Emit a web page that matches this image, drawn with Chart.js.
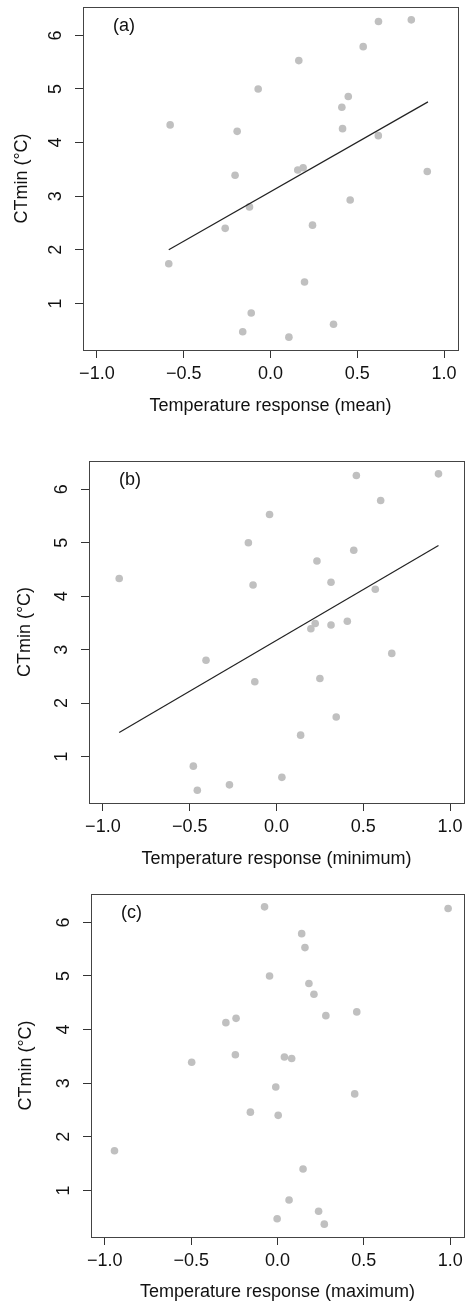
<!DOCTYPE html>
<html>
<head>
<meta charset="utf-8">
<script src="https://cdn.jsdelivr.net/npm/chart.js@4"></script>
<style>
  html, body { margin: 0; padding: 0; background: #fff; }
  body { width: 468px; height: 1306px; position: relative; overflow: hidden; }
  canvas { position: absolute; left: 0; }
</style>
</head>
<body>
<canvas id="pa"></canvas>
<canvas id="pb"></canvas>
<canvas id="pc"></canvas>
<script>
// CTmin per species, same order in every panel
const ctmin = [4.33, 4.21, 5.00, 5.53, 3.39, 3.49, 3.53, 4.66, 4.86, 4.26, 5.79, 6.26, 6.29,
  4.13, 3.46, 2.93, 2.80, 2.40, 2.46, 1.74, 1.40, 0.82, 0.47, 0.37, 0.61]
// temperature response: mean / minimum / maximum
const respMean = [-0.578, -0.192, -0.071, 0.163, -0.204, 0.157, 0.188, 0.411, 0.448, 0.415, 0.534, 0.622, 0.811,
  0.621, 0.903, 0.459, -0.121, -0.261, 0.242, -0.586, 0.196, -0.111, -0.160, 0.106, 0.363]
const respMin = [-0.906, -0.135, -0.162, -0.040, 0.198, 0.223, 0.408, 0.233, 0.445, 0.314, 0.600, 0.460, 0.933,
  0.569, 0.314, 0.664, -0.406, -0.125, 0.250, 0.344, 0.139, -0.479, -0.271, -0.456, 0.031]
const respMax = [0.459, -0.240, -0.046, 0.159, -0.497, 0.040, -0.244, 0.211, 0.182, 0.280, 0.140, 0.988, -0.075,
  -0.299, 0.082, -0.010, 0.447, 0.004, -0.157, -0.944, 0.148, 0.067, -0.002, 0.271, 0.238]
// fitted line end points
const fitMean = [{ x: -0.586, y: 2.00 }, { x: 0.907, y: 4.76 }]
const fitMin = [{ x: -0.906, y: 1.45 }, { x: 0.933, y: 4.95 }]

const xTicks = [-1, -0.5, 0, 0.5, 1]
const yTicks = [1, 2, 3, 4, 5, 6]
const xRange = [-1.08, 1.08]
const yRange = [0.13, 6.53]

const W = 468
const FONT = { family: "'Liberation Sans', Arial, Helvetica, sans-serif", size: 18 }
const INK = '#111'

const fmtX = v => (v < 0 ? '\u2212' : '') + Math.abs(v).toFixed(1)

const frame = {
  id: 'frame',
  afterDraw (chart, args, opts) {
    const { ctx, chartArea: a } = chart
    ctx.save()
    ctx.strokeStyle = '#444'
    ctx.lineWidth = 1
    ctx.strokeRect(Math.round(a.left) + 0.5, Math.round(a.top) + 0.5,
      Math.round(a.right - a.left), Math.round(a.bottom - a.top))
    ctx.fillStyle = INK
    ctx.font = FONT.size + 'px ' + FONT.family
    ctx.textBaseline = 'middle'
    ctx.textAlign = 'left'
    ctx.fillText(opts.label, a.left + 30, a.top + 19.5)
    ctx.restore()
  }
}

function panel (id, top, height, box, xs, fit, label, xTitle, yTitleX, xTitleBottom) {
  const cv = document.getElementById(id)
  cv.width = W
  cv.height = height
  cv.style.top = top + 'px'

  const points = xs.map((x, i) => ({ x, y: ctmin[i] }))
  const datasets = []
  if (fit) {
    datasets.push({
      type: 'line', data: fit, borderColor: '#222', borderWidth: 1.2,
      pointRadius: 0, fill: false
    })
  }
  datasets.push({
    type: 'scatter', data: points, backgroundColor: '#c0c0c0',
    borderWidth: 0, pointRadius: 3.8
  })

  const grid = { display: true, drawOnChartArea: false, drawTicks: true, tickLength: 8, color: '#333', lineWidth: 1 }

  return new Chart(cv, {
    type: 'scatter',
    data: { datasets },
    options: {
      responsive: false,
      animation: false,
      layout: { padding: { left: 0, top: box.t, right: W - box.r, bottom: 0 } },
      plugins: { legend: { display: false }, tooltip: { enabled: false }, frame: { label } },
      scales: {
        x: {
          type: 'linear', min: xRange[0], max: xRange[1],
          grid, border: { display: false },
          afterBuildTicks: s => { s.ticks = xTicks.map(value => ({ value })) },
          afterFit: s => { s.height = height - box.b; s.paddingLeft = 0; s.paddingRight = 0 },
          ticks: { font: FONT, color: INK, padding: 5, maxRotation: 0, autoSkip: false, callback: fmtX },
          title: { display: true, text: xTitle, font: FONT, color: INK, padding: { top: 0, bottom: xTitleBottom - FONT.size * 0.6 } }
        },
        y: {
          type: 'linear', min: yRange[0], max: yRange[1],
          grid, border: { display: false },
          afterBuildTicks: s => { s.ticks = yTicks.map(value => ({ value })) },
          afterFit: s => { s.width = box.l; s.paddingTop = 0; s.paddingBottom = 0 },
          ticks: { font: FONT, color: INK, padding: 14, minRotation: 90, maxRotation: 90, crossAlign: 'center', autoSkip: false, callback: v => String(v) },
          title: { display: true, text: 'CTmin (\u00B0C)', font: FONT, color: INK, padding: { top: yTitleX - FONT.size * 0.6, bottom: 0 } }
        }
      }
    },
    plugins: [frame]
  })
}

panel('pa', 0, 430, { l: 83, t: 7, r: 458, b: 350 }, respMean, fitMean, '(a)', 'Temperature response (mean)', 22.5, 24)
panel('pb', 430, 450, { l: 89, t: 31, r: 465, b: 373 }, respMin, fitMin, '(b)', 'Temperature response (minimum)', 25.5, 21)
panel('pc', 876, 430, { l: 91, t: 18, r: 466, b: 361 }, respMax, null, '(c)', 'Temperature response (maximum)', 26.5, 13.5)
</script>
</body>
</html>
